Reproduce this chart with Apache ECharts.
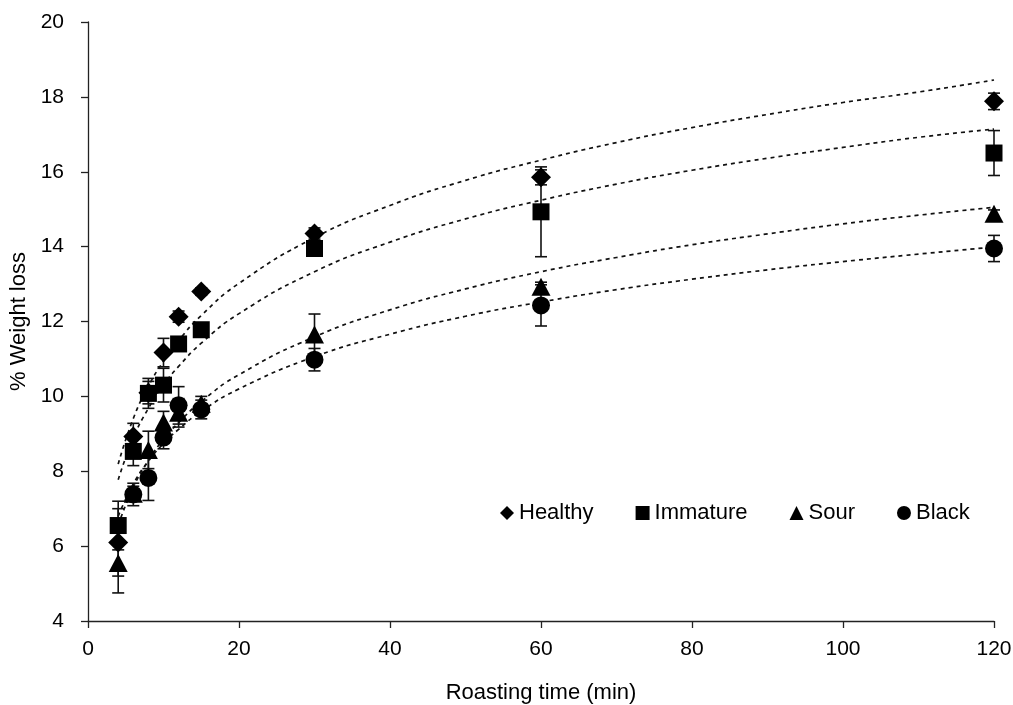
<!DOCTYPE html>
<html>
<head>
<meta charset="utf-8">
<title>Weight loss vs roasting time</title>
<script src="https://cdn.jsdelivr.net/npm/echarts@6/dist/echarts.min.js"></script>
<style>
    html, body { margin: 0; padding: 0; background: #fff; }
    #chart { width: 1013px; height: 705px; }
</style>
</head>
<body>
<div id="chart"></div>
<script>
    // roasting times (min)
    var times = [4, 6, 8, 10, 12, 15, 30, 60, 120];

    // mean % weight loss per bean type
    var healthy  = [6.1, 8.93, 10.1, 11.17, 12.13, 12.8, 14.35, 15.85, 17.88];
    var immature = [6.55, 8.53, 10.08, 10.3, 11.4, 11.78, 13.95, 14.93, 16.5];
    var sour     = [5.55, 7.4, 8.57, 9.3, 9.56, 9.8, 11.65, 12.93, 14.88];
    var black    = [null, 7.38, 7.82, 8.9, 9.76, 9.65, 10.98, 12.43, 13.95];

    // error (+/-) per point
    var healthyErr  = [0.9, 0.35, 0.3, 0.38, 0.15, 0.1, 0.15, 0.2, 0.22];
    var immatureErr = [0.65, 0.38, 0.4, 0.45, 0.15, 0.12, 0.15, 1.2, 0.6];
    var sourErr     = [0.8, 0.2, 0.5, 0.3, 0.38, 0.2, 0.55, 0.12, 0.1];
    var blackErr    = [0, 0.3, 0.6, 0.3, 0.5, 0.25, 0.3, 0.55, 0.35];

    // dotted trend lines
    var trendX        = [4, 6, 8, 10, 12, 15, 20, 30, 40, 50, 60, 70, 80, 90, 100, 110, 120];
    var healthyTrend  = [8.19, 9.41, 10.27, 10.94, 11.49, 12.16, 13.02, 14.24, 15.1, 15.77, 16.31, 16.78, 17.18, 17.53, 17.85, 18.13, 18.45];
    var immatureTrend = [7.77, 8.89, 9.68, 10.3, 10.8, 11.42, 12.21, 13.33, 14.12, 14.74, 15.24, 15.67, 16.04, 16.36, 16.65, 16.92, 17.14];
    var sourTrend     = [6.56, 7.57, 8.29, 8.85, 9.3, 9.86, 10.58, 11.59, 12.31, 12.87, 13.33, 13.71, 14.05, 14.34, 14.61, 14.84, 15.05];
    var blackTrend    = [6.8, 7.66, 8.27, 8.74, 9.12, 9.6, 10.2, 11.06, 11.66, 12.14, 12.52, 12.85, 13.13, 13.38, 13.6, 13.8, 13.99];

    var names = ['Healthy', 'Immature', 'Sour', 'Black'];
    var symbols = ['diamond', 'rect', 'triangle', 'circle'];
    var sizes = [[20, 20], [17, 17], [19, 18], [18, 18]];
    var means = [healthy, immature, sour, black];
    var errs = [healthyErr, immatureErr, sourErr, blackErr];
    var trends = [healthyTrend, immatureTrend, sourTrend, blackTrend];

    var FONT = 'Liberation Sans, Arial, Helvetica, sans-serif';

    function pairs(xs, ys) {
        var out = [];
        for (var i = 0; i < xs.length; i++) {
            if (ys[i] != null) out.push([xs[i], ys[i]]);
        }
        return out;
    }

    function errData(ys, es) {
        var out = [];
        for (var i = 0; i < times.length; i++) {
            if (ys[i] == null || !es[i]) continue;
            out.push([times[i], ys[i] - es[i], ys[i] + es[i]]);
        }
        return out;
    }

    function renderErr(params, api) {
        var t = api.value(0);
        var top = api.coord([t, api.value(2)]);
        var bot = api.coord([t, api.value(1)]);
        var w = 6;
        var st = { stroke: '#111', lineWidth: 1.6 };
        return {
            type: 'group',
            children: [
                { type: 'line', shape: { x1: top[0], y1: top[1], x2: bot[0], y2: bot[1] }, style: st },
                { type: 'line', shape: { x1: top[0] - w, y1: top[1], x2: top[0] + w, y2: top[1] }, style: st },
                { type: 'line', shape: { x1: bot[0] - w, y1: bot[1], x2: bot[0] + w, y2: bot[1] }, style: st }
            ]
        };
    }

    var series = [];

    // trend lines under everything else
    trends.forEach(function (tr, i) {
        series.push({
            name: names[i] + ' trend',
            type: 'line',
            smooth: true,
            showSymbol: false,
            silent: true,
            z: 1,
            lineStyle: { color: '#111', width: 1.7, type: [4, 4] },
            data: pairs(trendX, tr)
        });
    });

    names.forEach(function (n, i) {
        series.push({
            name: n + ' err',
            type: 'custom',
            z: 2,
            silent: true,
            renderItem: renderErr,
            encode: { x: 0, y: [1, 2] },
            data: errData(means[i], errs[i])
        });
    });

    names.forEach(function (n, i) {
        series.push({
            name: n,
            type: 'scatter',
            symbol: symbols[i],
            symbolSize: sizes[i],
            z: 3 + i,
            itemStyle: { color: '#000', opacity: 1 },
            data: pairs(times, means[i])
        });
    });

    var option = {
        animation: false,
        backgroundColor: '#fff',
        grid: { left: 88, right: 19, top: 22, bottom: 84, containLabel: false, outerBoundsMode: 'none' },
        legend: {
            left: 495,
            top: 497,
            itemGap: 42,
            itemWidth: 14,
            itemHeight: 14,
            data: names.map(function (n, i) {
                return { name: n, icon: symbols[i] };
            }),
            textStyle: { fontFamily: FONT, fontSize: 22, color: '#000' }
        },
        xAxis: {
            type: 'value',
            min: 0,
            max: 120,
            interval: 20,
            name: 'Roasting time (min)',
            nameLocation: 'middle',
            nameGap: 61,
            nameTextStyle: { fontFamily: FONT, fontSize: 22, color: '#000' },
            axisLine: { onZero: false, lineStyle: { color: '#222', width: 1.3 } },
            axisTick: { show: true, length: 7, lineStyle: { color: '#222', width: 1.3 } },
            axisLabel: { fontFamily: FONT, fontSize: 21, color: '#000', margin: 18 },
            splitLine: { show: false }
        },
        yAxis: {
            type: 'value',
            min: 4,
            max: 20,
            interval: 2,
            name: '% Weight loss',
            nameLocation: 'middle',
            nameGap: 53,
            nameTextStyle: { fontFamily: FONT, fontSize: 22, color: '#000' },
            axisLine: { show: true, lineStyle: { color: '#222', width: 1.3 } },
            axisTick: { show: true, length: 7, lineStyle: { color: '#222', width: 1.3 } },
            axisLabel: { fontFamily: FONT, fontSize: 21, color: '#000', margin: 24 },
            splitLine: { show: false }
        },
        series: series
    };

    var chart = echarts.init(document.getElementById('chart'), null, { renderer: 'canvas' });
    chart.setOption(option);
</script>
</body>
</html>
